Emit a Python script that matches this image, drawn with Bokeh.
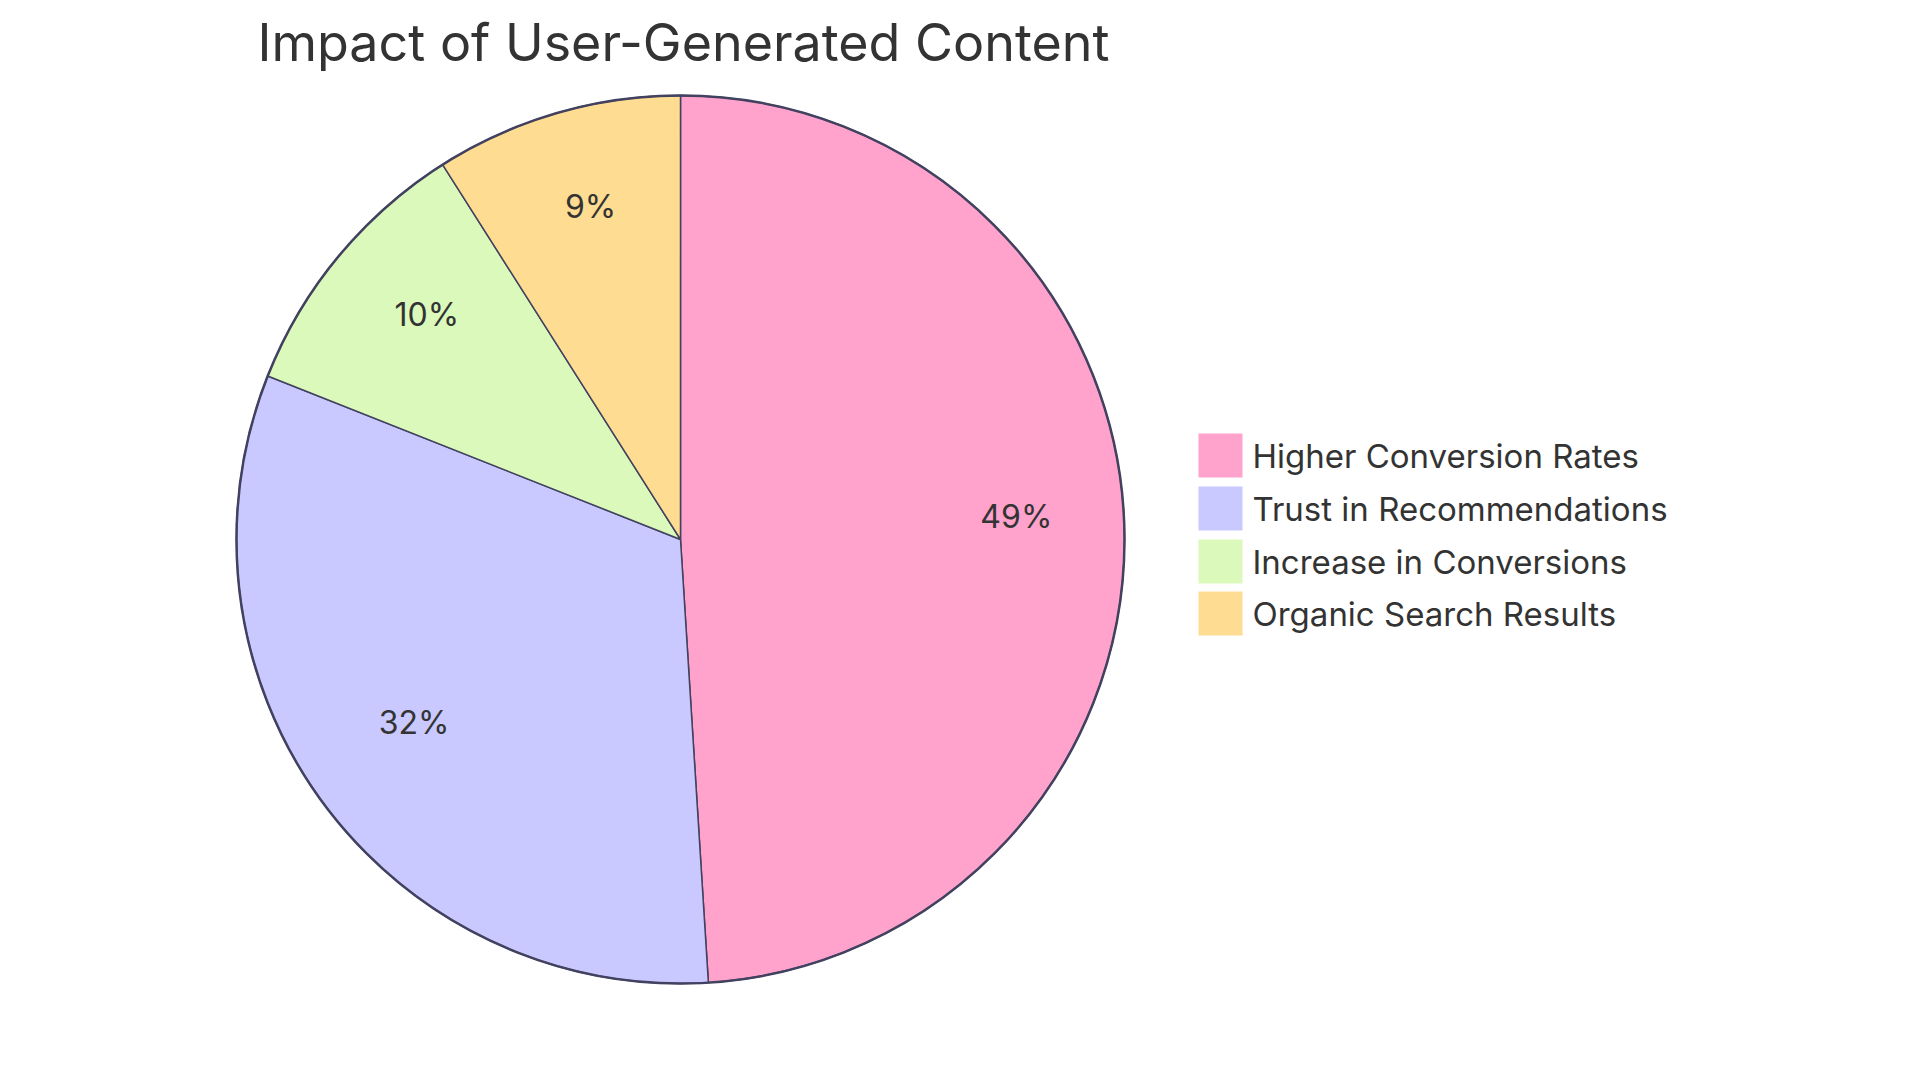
import numpy as np
from bokeh.plotting import figure
from bokeh.models import ColumnDataSource, Range1d
from bokeh.core.properties import value
from bokeh.embed import file_html
from bokeh.resources import INLINE

# Données
categories = ["Higher Conversion Rates", "Trust in Recommendations",
              "Increase in Conversions", "Organic Search Results"]
shares = [49, 32, 10, 9]
colors = ["#FFA3CC", "#C9C9FF", "#DAF9BA", "#FEDD92"]

FONT = "Inter"
TXT = "#333333"
EDGE = "#424260"

# coordonnées en pixels de l'écran (y vers le haut : y = 1083 - y_écran)
p = figure(width=1904, height=1067, output_backend="svg", toolbar_location=None,
           x_range=Range1d(0, 1904), y_range=Range1d(16, 1083), min_border=0)
p.axis.visible = False
p.grid.visible = False
p.outline_line_color = None

cx, cy, r = 680, 1083 - 539, 444

frac = np.array(shares) / sum(shares)
cum = np.concatenate([[0], np.cumsum(frac)])
start = np.pi / 2 - cum[:-1] * 2 * np.pi
end = np.pi / 2 - cum[1:] * 2 * np.pi
mid = (start + end) / 2

src = ColumnDataSource(data=dict(
    start=start, end=end, color=colors, cat=categories,
    lx=cx + 0.75 * r * np.cos(mid) + 3, ly=cy + 0.75 * r * np.sin(mid) + 13,
    lab=[f"{s}%" for s in shares],
))

p.wedge(x=cx, y=cy, radius=r, start_angle="start", end_angle="end", direction="clock",
        fill_color="color", line_color=EDGE, line_width=1.5, source=src)
p.circle(x=cx, y=cy, radius=r, fill_color=None, line_color=EDGE, line_width=2.5)

p.text(x="lx", y="ly", text="lab", source=src, text_align="center",
       text_baseline="alphabetic", text_font=value(FONT), text_font_size="32px",
       text_color=TXT)

# Légende
lg_y = 1083 - np.array([455, 508, 561, 613])
src_lg = ColumnDataSource(data=dict(y=lg_y, color=colors, cat=categories))
p.rect(x=1220, y="y", width=45, height=45, fill_color="color", line_color="white",
       line_width=1, source=src_lg)
p.text(x=1252, y="y", text="cat", source=src_lg, text_baseline="middle",
       text_font=value(FONT), text_font_size="33px", text_color=TXT)

# Titre
p.text(x=[257], y=[1083 - 42], text=["Impact of User-Generated Content"],
       text_baseline="alphabetic", text_font=value(FONT), text_font_size="52px",
       text_color=TXT)

open("out.html", "w").write(file_html(p, INLINE))
